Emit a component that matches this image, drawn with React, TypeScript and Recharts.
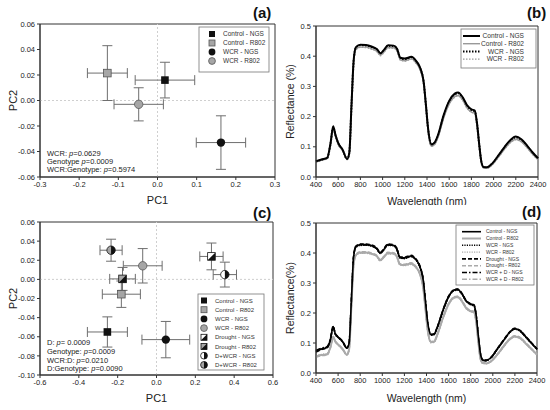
import React from 'react'
import {
  ScatterChart,
  Scatter,
  LineChart,
  Line,
  XAxis,
  YAxis,
  ErrorBar,
  ReferenceLine,
  ReferenceArea,
} from 'recharts'

const FONT = "'Liberation Sans', Arial, sans-serif"

// ---- PCA, panel (a)
const groupsA = ['Control - NGS', 'Control - R802', 'WCR - NGS', 'WCR - R802']
const pc1A = [0.019, -0.128, 0.162, -0.048]
const pc2A = [0.016, 0.0215, -0.033, -0.003]
const pc1ErrA = [0.076, 0.051, 0.063, 0.063]
const pc2ErrA = [0.014, 0.0215, 0.021, 0.013]
const ticksXA = [-0.3, -0.2, -0.1, 0, 0.1, 0.2, 0.3]
const ticksYA = [-0.06, -0.04, -0.02, 0, 0.02, 0.04, 0.06]
const statsA = [
  ['WCR: ', 'p', '=0.0629'],
  ['Genotype ', 'p', '=0.0009'],
  ['WCR:Genotype: ', 'p', '=0.5974'],
]

// ---- PCA, panel (c)
const groupsC = [
  'Control - NGS',
  'Control - R802',
  'WCR - NGS',
  'WCR - R802',
  'Drought - NGS',
  'Drought - R802',
  'D+WCR - NGS',
  'D+WCR - R802',
]
const pc1C = [-0.253, -0.181, 0.048, -0.071, 0.283, -0.175, 0.352, -0.234]
const pc2C = [-0.055, -0.0155, -0.063, 0.0142, 0.024, 0.0005, 0.005, 0.0305]
const pc1ErrC = [0.103, 0.098, 0.123, 0.1, 0.06, 0.066, 0.06, 0.057]
const pc2ErrC = [0.0158, 0.0138, 0.019, 0.018, 0.014, 0.012, 0.013, 0.0115]
const ticksXC = [-0.6, -0.4, -0.2, 0, 0.2, 0.4, 0.6]
const ticksYC = [-0.1, -0.08, -0.06, -0.04, -0.02, 0, 0.02, 0.04, 0.06]
const statsC = [
  ['D: ', 'p', '= 0.0009'],
  ['Genotype: ', 'p', '=0.0009'],
  ['WCR:D: ', 'p', '=0.0210'],
  ['D:Genotype: ', 'p', '=0.0090'],
]

// ---- spectra
const wavelengths = [
  400, 450, 500, 530, 555, 575, 600, 640, 680, 700, 720, 740, 760, 800, 850, 900, 950, 980, 1010, 1050,
  1100, 1130, 1160, 1200, 1260, 1300, 1340, 1370, 1390, 1410, 1440, 1470, 1500, 1550, 1600, 1650, 1680,
  1720, 1760, 1800, 1830, 1850, 1870, 1890, 1910, 1940, 1980, 2050, 2100, 2150, 2200, 2250, 2300, 2350,
  2400,
]
const ticksWave = [400, 600, 800, 1000, 1200, 1400, 1600, 1800, 2000, 2200, 2400]
const ticksRefl = [0, 0.1, 0.2, 0.3, 0.4, 0.5]

const namesB = ['Control - NGS', 'Control - R802', 'WCR - NGS', 'WCR - R802']
const bControlNGS = [
  0.052, 0.058, 0.063, 0.11, 0.168, 0.14, 0.113, 0.09, 0.06, 0.08, 0.24, 0.39, 0.43, 0.438, 0.437, 0.432,
  0.423, 0.41, 0.42, 0.436, 0.435, 0.425, 0.395, 0.392, 0.398, 0.385, 0.36, 0.315, 0.24, 0.16, 0.108,
  0.115, 0.14, 0.205, 0.252, 0.276, 0.28, 0.265, 0.238, 0.224, 0.22, 0.18, 0.11, 0.05, 0.033, 0.032,
  0.042, 0.075, 0.1, 0.122, 0.134, 0.125, 0.105, 0.082, 0.062,
]
const bControlR802 = [
  0.05, 0.056, 0.061, 0.105, 0.16, 0.135, 0.108, 0.087, 0.058, 0.078, 0.235, 0.382, 0.423, 0.43, 0.43,
  0.425, 0.416, 0.403, 0.413, 0.429, 0.428, 0.418, 0.388, 0.385, 0.391, 0.378, 0.353, 0.308, 0.233, 0.153,
  0.102, 0.108, 0.132, 0.195, 0.242, 0.266, 0.27, 0.256, 0.229, 0.215, 0.211, 0.172, 0.104, 0.046, 0.03,
  0.029, 0.038, 0.069, 0.093, 0.114, 0.125, 0.117, 0.098, 0.076, 0.058,
]
const bWcrNGS = [
  0.051, 0.057, 0.062, 0.108, 0.165, 0.138, 0.111, 0.089, 0.059, 0.079, 0.238, 0.387, 0.428, 0.436, 0.435,
  0.43, 0.421, 0.408, 0.418, 0.434, 0.433, 0.423, 0.393, 0.39, 0.396, 0.383, 0.358, 0.313, 0.238, 0.158,
  0.106, 0.113, 0.138, 0.202, 0.249, 0.273, 0.277, 0.262, 0.235, 0.221, 0.217, 0.177, 0.108, 0.049, 0.032,
  0.031, 0.041, 0.073, 0.098, 0.12, 0.131, 0.122, 0.103, 0.08, 0.061,
]
const bWcrR802 = [
  0.05, 0.056, 0.06, 0.106, 0.162, 0.136, 0.109, 0.087, 0.058, 0.077, 0.234, 0.381, 0.422, 0.429, 0.428,
  0.423, 0.414, 0.401, 0.411, 0.427, 0.426, 0.416, 0.386, 0.384, 0.39, 0.377, 0.352, 0.307, 0.232, 0.152,
  0.101, 0.107, 0.131, 0.194, 0.241, 0.264, 0.268, 0.254, 0.228, 0.214, 0.21, 0.171, 0.103, 0.046, 0.03,
  0.029, 0.038, 0.068, 0.092, 0.113, 0.123, 0.116, 0.097, 0.075, 0.057,
]

const namesD = [
  'Control - NGS',
  'Control - R802',
  'WCR - NGS',
  'WCR - R802',
  'Drought - NGS',
  'Drought - R802',
  'WCR + D - NGS',
  'WCR + D - R802',
]
const dControlNGS = [
  0.072, 0.08, 0.085, 0.11, 0.155, 0.13, 0.12, 0.105, 0.083, 0.1, 0.24, 0.385, 0.42, 0.428, 0.428, 0.425,
  0.415, 0.4, 0.41, 0.428, 0.426, 0.415, 0.385, 0.384, 0.39, 0.38, 0.355, 0.31, 0.24, 0.17, 0.128, 0.13,
  0.155, 0.21, 0.255, 0.277, 0.279, 0.265, 0.24, 0.23, 0.226, 0.19, 0.12, 0.06, 0.043, 0.042, 0.05,
  0.085, 0.11, 0.135, 0.148, 0.14, 0.12, 0.1, 0.08,
]
const dControlR802 = [
  0.055, 0.06, 0.062, 0.085, 0.12, 0.105, 0.095, 0.08, 0.061, 0.08, 0.22, 0.36, 0.393, 0.402, 0.402, 0.398,
  0.39, 0.376, 0.385, 0.4, 0.399, 0.39, 0.362, 0.36, 0.365, 0.355, 0.33, 0.285, 0.215, 0.145, 0.103, 0.105,
  0.13, 0.185, 0.23, 0.252, 0.254, 0.24, 0.216, 0.206, 0.203, 0.17, 0.1, 0.045, 0.033, 0.032, 0.038,
  0.066, 0.09, 0.112, 0.122, 0.116, 0.098, 0.08, 0.062,
]
const dWcrNGS = [
  0.074, 0.081, 0.087, 0.112, 0.152, 0.128, 0.118, 0.104, 0.082, 0.099, 0.238, 0.382, 0.418, 0.425, 0.426,
  0.423, 0.413, 0.398, 0.408, 0.425, 0.424, 0.413, 0.383, 0.381, 0.387, 0.378, 0.352, 0.307, 0.238, 0.168,
  0.126, 0.128, 0.153, 0.207, 0.252, 0.274, 0.276, 0.262, 0.238, 0.227, 0.223, 0.187, 0.118, 0.058, 0.042,
  0.041, 0.049, 0.083, 0.108, 0.133, 0.146, 0.138, 0.118, 0.098, 0.078,
]
const dWcrR802 = [
  0.057, 0.062, 0.064, 0.088, 0.118, 0.104, 0.094, 0.079, 0.06, 0.079, 0.218, 0.357, 0.39, 0.399, 0.399,
  0.396, 0.388, 0.374, 0.383, 0.397, 0.396, 0.387, 0.36, 0.358, 0.362, 0.353, 0.328, 0.283, 0.213, 0.143,
  0.101, 0.103, 0.128, 0.182, 0.227, 0.249, 0.251, 0.237, 0.214, 0.204, 0.201, 0.168, 0.099, 0.044, 0.032,
  0.031, 0.037, 0.064, 0.088, 0.11, 0.12, 0.114, 0.096, 0.078, 0.06,
]
const dDroughtNGS = [
  0.07, 0.078, 0.084, 0.109, 0.156, 0.131, 0.121, 0.106, 0.084, 0.101, 0.242, 0.387, 0.422, 0.43, 0.43,
  0.427, 0.417, 0.402, 0.412, 0.43, 0.428, 0.417, 0.387, 0.386, 0.392, 0.382, 0.357, 0.312, 0.242, 0.171,
  0.129, 0.131, 0.156, 0.211, 0.256, 0.278, 0.28, 0.266, 0.241, 0.231, 0.227, 0.191, 0.121, 0.061, 0.044,
  0.043, 0.051, 0.086, 0.111, 0.136, 0.149, 0.141, 0.121, 0.101, 0.081,
]
const dDroughtR802 = [
  0.053, 0.058, 0.06, 0.083, 0.122, 0.106, 0.096, 0.081, 0.062, 0.081, 0.222, 0.362, 0.395, 0.404, 0.404,
  0.4, 0.392, 0.378, 0.387, 0.402, 0.401, 0.392, 0.364, 0.362, 0.367, 0.357, 0.332, 0.287, 0.217, 0.147,
  0.105, 0.107, 0.132, 0.187, 0.232, 0.254, 0.256, 0.242, 0.218, 0.208, 0.205, 0.172, 0.102, 0.046, 0.034,
  0.033, 0.039, 0.067, 0.091, 0.113, 0.124, 0.118, 0.1, 0.081, 0.063,
]
const dWcrDNGS = [
  0.075, 0.083, 0.088, 0.113, 0.153, 0.129, 0.119, 0.104, 0.083, 0.1, 0.239, 0.384, 0.421, 0.427, 0.427,
  0.424, 0.414, 0.399, 0.409, 0.427, 0.425, 0.414, 0.384, 0.383, 0.389, 0.379, 0.354, 0.309, 0.239, 0.169,
  0.127, 0.129, 0.154, 0.209, 0.254, 0.276, 0.278, 0.264, 0.239, 0.229, 0.225, 0.189, 0.119, 0.059, 0.042,
  0.041, 0.05, 0.084, 0.109, 0.134, 0.147, 0.139, 0.119, 0.099, 0.079,
]
const dWcrDR802 = [
  0.056, 0.061, 0.063, 0.086, 0.119, 0.104, 0.094, 0.08, 0.06, 0.079, 0.219, 0.358, 0.391, 0.4, 0.4,
  0.397, 0.389, 0.375, 0.384, 0.398, 0.397, 0.388, 0.361, 0.359, 0.364, 0.354, 0.329, 0.284, 0.214, 0.144,
  0.102, 0.104, 0.129, 0.184, 0.229, 0.251, 0.253, 0.239, 0.215, 0.205, 0.202, 0.169, 0.1, 0.045, 0.033,
  0.032, 0.038, 0.065, 0.089, 0.111, 0.121, 0.115, 0.097, 0.079, 0.061,
]

const seriesB = [bControlNGS, bControlR802, bWcrNGS, bWcrR802]
const seriesD = [
  dControlNGS,
  dControlR802,
  dWcrNGS,
  dWcrR802,
  dDroughtNGS,
  dDroughtR802,
  dWcrDNGS,
  dWcrDR802,
]

const rowsB = wavelengths.map((w, i) => {
  const row: Record<string, number> = { w }
  seriesB.forEach((s, k) => (row['s' + k] = s[i]))
  return row
})
const rowsD = wavelengths.map((w, i) => {
  const row: Record<string, number> = { w }
  seriesD.forEach((s, k) => (row['s' + k] = s[i]))
  return row
})

const pointsA = groupsA.map((name, i) => ({ name, x: pc1A[i], y: pc2A[i], ex: pc1ErrA[i], ey: pc2ErrA[i] }))
const pointsC = groupsC.map((name, i) => ({ name, x: pc1C[i], y: pc2C[i], ex: pc1ErrC[i], ey: pc2ErrC[i] }))

// ---- styles
const GRAY = '#a6a6a6'
type Kind = 'sqB' | 'sqG' | 'ciB' | 'ciG' | 'sqHW' | 'sqHG' | 'ciHW' | 'ciHG'
const kindsA: Kind[] = ['sqB', 'sqG', 'ciB', 'ciG']
const kindsC: Kind[] = ['sqB', 'sqG', 'ciB', 'ciG', 'sqHW', 'sqHG', 'ciHW', 'ciHG']

type LineStyle = { stroke: string; width: number; dash?: string }
const stylesB: LineStyle[] = [
  { stroke: '#000', width: 2 },
  { stroke: '#999', width: 1.4 },
  { stroke: '#000', width: 2, dash: '1.5 1.5' },
  { stroke: '#999', width: 1.2, dash: '1.5 1.5' },
]
const stylesD: LineStyle[] = [
  { stroke: '#000', width: 1.6 },
  { stroke: '#aaa', width: 2 },
  { stroke: '#000', width: 1.4, dash: '1.2 1.2' },
  { stroke: '#aaa', width: 1.4, dash: '1.2 1.2' },
  { stroke: '#000', width: 1.6, dash: '4 2' },
  { stroke: '#aaa', width: 1.6, dash: '4 2' },
  { stroke: '#000', width: 1.6, dash: '5 2 1.5 2' },
  { stroke: '#aaa', width: 1.4, dash: '5 2 1.5 2' },
]

const tickStyle = { fontSize: 7.5, fill: '#222', fontFamily: FONT }
const fmt1 = (v: number) => v.toFixed(1)
const fmt2 = (v: number) => v.toFixed(2)

function Marker({ cx, cy, kind, s = 3.8 }: { cx: number; cy: number; kind: Kind; s?: number }) {
  const r = s + 0.4
  const half = `M${cx},${cy - r} A${r},${r} 0 0 1 ${cx},${cy + r} Z`
  const tri = `M${cx + s},${cy - s} L${cx + s},${cy + s} L${cx - s},${cy + s} Z`
  switch (kind) {
    case 'sqB':
      return <rect x={cx - s} y={cy - s} width={2 * s} height={2 * s} fill="#111" />
    case 'sqG':
      return <rect x={cx - s} y={cy - s} width={2 * s} height={2 * s} fill={GRAY} stroke="#555" strokeWidth={0.8} />
    case 'ciB':
      return <circle cx={cx} cy={cy} r={r} fill="#111" />
    case 'ciG':
      return <circle cx={cx} cy={cy} r={r} fill={GRAY} stroke="#555" strokeWidth={0.8} />
    case 'sqHW':
    case 'sqHG':
      return (
        <g>
          <rect x={cx - s} y={cy - s} width={2 * s} height={2 * s} fill={kind === 'sqHW' ? '#fff' : GRAY} stroke="#111" strokeWidth={0.8} />
          <path d={tri} fill="#111" />
        </g>
      )
    default:
      return (
        <g>
          <circle cx={cx} cy={cy} r={r} fill={kind === 'ciHW' ? '#fff' : GRAY} stroke="#111" strokeWidth={0.8} />
          <path d={half} fill="#111" />
        </g>
      )
  }
}

type Pt = { name: string; x: number; y: number; ex: number; ey: number }

function PcaChart(props: {
  points: Pt[]
  kinds: Kind[]
  xDomain: [number, number]
  yDomain: [number, number]
  xTicks: number[]
  yTicks: number[]
  width: number
  marginRight: number
  marginTop: number
  xAxisHeight: number
  xLabelOffset: number
}) {
  const { points, kinds, xDomain, yDomain, xTicks, yTicks } = props
  return (
    <ScatterChart width={props.width} height={205} margin={{ top: props.marginTop, right: props.marginRight, bottom: 0, left: 0 }}>
      <XAxis
        type="number"
        dataKey="x"
        domain={xDomain}
        ticks={xTicks}
        tickFormatter={fmt1}
        allowDataOverflow
        height={props.xAxisHeight}
        tick={tickStyle}
        tickSize={3}
        tickMargin={2}
        stroke="#333"
        label={{ value: 'PC1', position: 'insideBottom', offset: props.xLabelOffset, fontSize: 11, fill: '#222', fontFamily: FONT }}
      />
      <YAxis
        type="number"
        dataKey="y"
        domain={yDomain}
        ticks={yTicks}
        tickFormatter={fmt2}
        allowDataOverflow
        width={40}
        tick={tickStyle}
        tickSize={3}
        tickMargin={2}
        stroke="#333"
        label={{ value: 'PC2', angle: -90, position: 'insideLeft', offset: 13, fontSize: 11, fill: '#222', fontFamily: FONT, style: { textAnchor: 'middle' } }}
      />
      <ReferenceArea x1={xDomain[0]} x2={xDomain[1]} y1={yDomain[0]} y2={yDomain[1]} fill="none" stroke="#333" strokeWidth={1} />
      <ReferenceLine x={0} stroke="#cfcfcf" strokeDasharray="2 2" />
      <ReferenceLine y={0} stroke="#cfcfcf" strokeDasharray="2 2" />
      {points.map((p, i) => (
        <Scatter
          key={p.name}
          name={p.name}
          data={[p]}
          isAnimationActive={false}
          shape={(sp: any) => <Marker cx={sp.cx} cy={sp.cy} kind={kinds[i]} />}
        >
          <ErrorBar dataKey="ex" direction="x" width={5} stroke="#6e6e6e" strokeWidth={1} />
          <ErrorBar dataKey="ey" direction="y" width={5} stroke="#6e6e6e" strokeWidth={1} />
        </Scatter>
      ))}
    </ScatterChart>
  )
}

function SpectraChart(props: {
  rows: Record<string, number>[]
  styles: LineStyle[]
  names: string[]
  marginTop: number
  marginRight: number
  xAxisHeight: number
  xLabelOffset: number
  yLabel: string
}) {
  return (
    <LineChart width={275} height={205} data={props.rows} margin={{ top: props.marginTop, right: props.marginRight, bottom: 0, left: 0 }}>
      <XAxis
        type="number"
        dataKey="w"
        domain={[400, 2400]}
        ticks={ticksWave}
        height={props.xAxisHeight}
        tick={tickStyle}
        tickSize={3}
        tickMargin={2}
        stroke="#333"
        label={{ value: 'Wavelength (nm)', position: 'insideBottom', offset: props.xLabelOffset, fontSize: 10.5, fill: '#222', fontFamily: FONT }}
      />
      <YAxis
        type="number"
        domain={[0, 0.5]}
        ticks={ticksRefl}
        tickFormatter={fmt1}
        width={41}
        tick={tickStyle}
        tickSize={3}
        tickMargin={2}
        stroke="#333"
        label={{ value: props.yLabel, angle: -90, position: 'insideLeft', offset: 15, fontSize: 10.5, fill: '#222', fontFamily: FONT, style: { textAnchor: 'middle' } }}
      />
      <ReferenceArea x1={400} x2={2400} y1={0} y2={0.5} fill="none" stroke="#333" strokeWidth={1} />
      {props.styles.map((st, k) => (
        <Line
          key={props.names[k]}
          name={props.names[k]}
          dataKey={'s' + k}
          type="monotone"
          dot={false}
          stroke={st.stroke}
          strokeWidth={st.width}
          strokeDasharray={st.dash}
          isAnimationActive={false}
        />
      )).reverse()}
    </LineChart>
  )
}

function Stats({ x, baselines, lines }: { x: number; baselines: number[]; lines: string[][] }) {
  return (
    <g fontSize={7.5} fill="#222" fontFamily={FONT}>
      {lines.map((l, i) => (
        <text key={i} x={x} y={baselines[i]}>
          <tspan>{l[0]}</tspan>
          <tspan fontStyle="italic">{l[1]}</tspan>
          <tspan>{l[2]}</tspan>
        </text>
      ))}
    </g>
  )
}

function MarkerLegend(p: { x: number; y: number; w: number; h: number; first: number; step: number; names: string[]; kinds: Kind[]; fontSize: number; mx: number; tx: number }) {
  return (
    <g fontFamily={FONT}>
      <rect x={p.x} y={p.y} width={p.w} height={p.h} fill="#fff" stroke="#777" strokeWidth={0.8} />
      {p.names.map((n, i) => {
        const cy = p.first + i * p.step
        return (
          <g key={n}>
            <Marker cx={p.mx} cy={cy} kind={p.kinds[i]} s={3} />
            <text x={p.tx} y={cy + p.fontSize * 0.35} fontSize={p.fontSize} fill="#333">
              {n}
            </text>
          </g>
        )
      })}
    </g>
  )
}

function LineLegend(p: { x: number; y: number; w: number; h: number; first: number; step: number; names: string[]; styles: LineStyle[]; fontSize: number; lx0: number; lx1: number; tx: number; anchor: 'start' | 'end' }) {
  return (
    <g fontFamily={FONT}>
      <rect x={p.x} y={p.y} width={p.w} height={p.h} fill="#fff" stroke="#777" strokeWidth={0.8} />
      {p.names.map((n, i) => {
        const cy = p.first + i * p.step
        const st = p.styles[i]
        return (
          <g key={n}>
            <line x1={p.lx0} x2={p.lx1} y1={cy} y2={cy} stroke={st.stroke} strokeWidth={st.width} strokeDasharray={st.dash} />
            <text x={p.tx} y={cy + p.fontSize * 0.35} fontSize={p.fontSize} fill="#333" textAnchor={p.anchor}>
              {n}
            </text>
          </g>
        )
      })}
    </g>
  )
}

export default function App() {
  return (
    <div style={{ position: 'absolute', left: 0, top: 0, width: 550, height: 410, background: '#fff', fontFamily: FONT }}>
      <div style={{ position: 'absolute', left: 0, top: 0, width: 285, height: 205 }}>
        <PcaChart
          points={pointsA}
          kinds={kindsA}
          xDomain={[-0.3, 0.3]}
          yDomain={[-0.06, 0.06]}
          xTicks={ticksXA}
          yTicks={ticksYA}
          width={285}
          marginRight={10}
          marginTop={24}
          xAxisHeight={28}
          xLabelOffset={1}
        />
      </div>
      <div style={{ position: 'absolute', left: 275, top: 0, width: 275, height: 205 }}>
        <SpectraChart rows={rowsB} styles={stylesB} names={namesB} marginTop={26} marginRight={12} xAxisHeight={28} xLabelOffset={0.5} yLabel="Reflectance (%)" />
      </div>
      <div style={{ position: 'absolute', left: 0, top: 205, width: 285, height: 205 }}>
        <PcaChart
          points={pointsC}
          kinds={kindsC}
          xDomain={[-0.6, 0.6]}
          yDomain={[-0.1, 0.06]}
          xTicks={ticksXC}
          yTicks={ticksYC}
          width={285}
          marginRight={12}
          marginTop={17}
          xAxisHeight={35}
          xLabelOffset={8}
        />
      </div>
      <div style={{ position: 'absolute', left: 275, top: 205, width: 275, height: 205 }}>
        <SpectraChart rows={rowsD} styles={stylesD} names={namesD} marginTop={18} marginRight={13} xAxisHeight={37} xLabelOffset={8.5} yLabel="Reflectance(%)" />
      </div>

      <svg width={550} height={410} style={{ position: 'absolute', left: 0, top: 0, pointerEvents: 'none' }}>
        <g fontFamily={FONT} fontWeight="bold" fontSize={15} fill="#111">
          <text x={253} y={18.4}>(a)</text>
          <text x={527} y={18.4}>(b)</text>
          <text x={253} y={218}>(c)</text>
          <text x={522} y={217.4}>(d)</text>
        </g>
        <Stats x={47} baselines={[155.7, 164, 172.4]} lines={statsA} />
        <Stats x={47} baselines={[345, 354.4, 362.7, 371.4]} lines={statsC} />
        <MarkerLegend x={199} y={27} w={70} h={45} first={34} step={9} names={groupsA} kinds={kindsA} fontSize={6.5} mx={212} tx={223} />
        <MarkerLegend x={198} y={294} w={66} h={76} first={300.5} step={9.2} names={groupsC} kinds={kindsC} fontSize={6} mx={204} tx={215} />
        <LineLegend x={461} y={29} w={75} h={39} first={36} step={7.7} names={namesB} styles={stylesB} fontSize={6.6} lx0={463} lx1={480} tx={524} anchor="end" />
        <LineLegend x={456} y={225} w={78} h={60} first={231.7} step={6.8} names={namesD} styles={stylesD} fontSize={5} lx0={462} lx1={481} tx={486} anchor="start" />
      </svg>
    </div>
  )
}
